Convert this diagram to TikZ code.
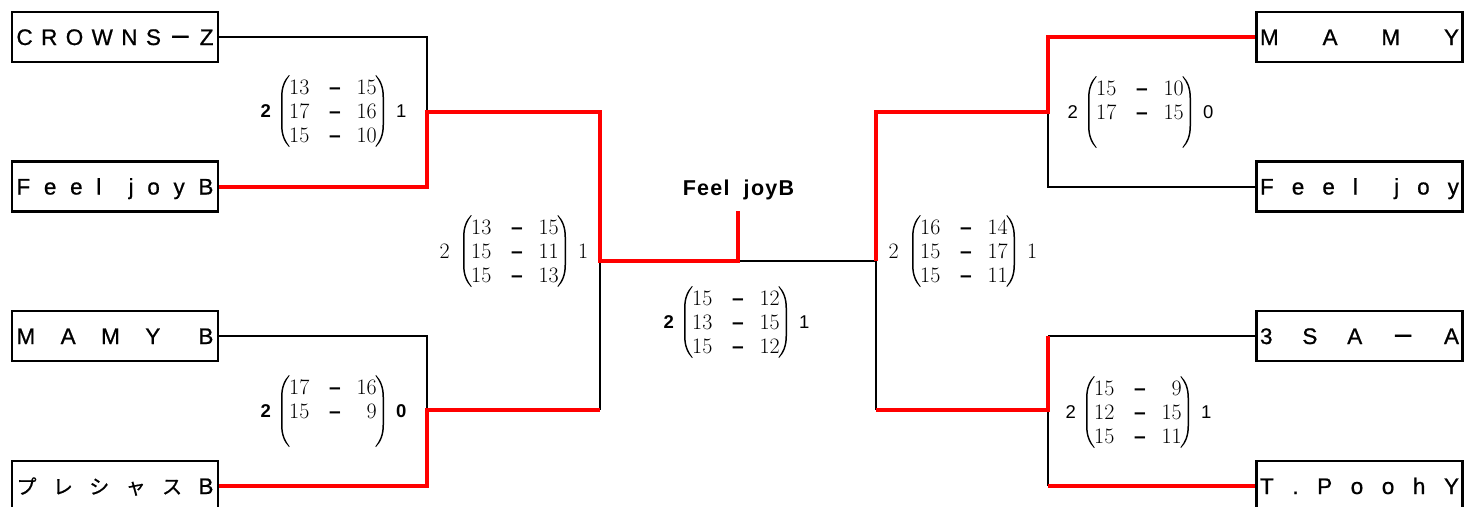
\documentclass[tikz,border=0pt]{standalone}
\usepackage{fontspec}
\setsansfont{Liberation Sans}
\newfontfamily\teamfont[FakeBold=0.8]{Liberation Sans}
\newfontfamily\cjk[FakeBold=0.8]{Noto Sans CJK JP}
\newfontfamily\cjkbar[FakeBold=2.5]{Noto Sans CJK JP}
\definecolor{wred}{RGB}{255,0,0}
\newcommand\ls{\kern1.3pt}
\newcommand\jp[1]{{\cjk\fontsize{20}{22}\selectfont #1}}
\newcommand\fwbar{{\cjkbar\fontsize{22}{24}\selectfont －}}
\newcommand\parenshape[3]{%
  \fill ({#1+(#3)*8},{#2-36}) .. controls ({#1+(#3)*3},{#2-31}) and ({#1},{#2-24}) .. ({#1},{#2-14})
    -- ({#1},{#2+14}) .. controls ({#1},{#2+24}) and ({#1+(#3)*3},{#2+31}) .. ({#1+(#3)*8},{#2+36})
    -- ({#1+(#3)*8.6},{#2+35.4}) .. controls ({#1+(#3)*4.4},{#2+30}) and ({#1+(#3)*1.5},{#2+24}) .. ({#1+(#3)*1.5},{#2+14})
    -- ({#1+(#3)*1.5},{#2-14}) .. controls ({#1+(#3)*1.5},{#2-24}) and ({#1+(#3)*4.4},{#2-30}) .. ({#1+(#3)*8.6},{#2-35.4}) -- cycle;}
\newcommand\scoreblk[6]{%
  \parenshape{#2}{#3}{1}
  \parenshape{#2+103}{#3}{-1}
  \node[lab, anchor=east] (#1-a) at ({#2-10},#3) {#4};
  \node[lab, anchor=west] (#1-b) at ({#2+115},#3) {#5};
  \foreach \u/\v [count=\i] in {#6} {
    \node[num, anchor=base west] (#1-u\i) at ({#2+8},{#3+24*(\i-2)+7}) {\u};
    \node[dashtxt, anchor=base] (#1-d\i) at ({#2+54},{#3+24*(\i-2)+7}) {–};
    \node[num, anchor=base east] (#1-v\i) at ({#2+96},{#3+24*(\i-2)+7}) {\v};
  }}
\tikzset{
  team/.style={draw, line width=2.2pt, minimum width=206pt, minimum height=50pt, inner sep=0pt,
    font=\teamfont\fontsize{22.5}{25}\selectfont, text height=16pt, text depth=0pt},
  lose/.style={line width=2pt, black},
  win/.style={line width=4pt, wred},
  num/.style={inner sep=0pt, font=\fontsize{22}{25}\selectfont},
  dashtxt/.style={inner sep=0pt, font=\sffamily\bfseries\fontsize{21}{25}\selectfont},
  lab/.style={inner sep=0pt, font=\sffamily\fontsize{18.5}{20}\selectfont},
  champ/.style={inner sep=0pt, font=\sffamily\bfseries\fontsize{21.5}{25}\selectfont, text height=15.5pt, text depth=0pt},
}
\newcommand\serif[1]{{\rmfamily\fontsize{22}{25}\selectfont #1}}
\begin{document}
\begin{tikzpicture}[x=1pt,y=-1pt]
\useasboundingbox (0,0) rectangle (1464,506);
\clip (0,0) rectangle (1464,506);
\fill[white] (0,0) rectangle (1464,506);
% teams left
\node[team] (crz) at (115,37) {\makebox[197pt][s]{C\hfill R\hfill O\hfill W\hfill N\hfill S\hfill\fwbar\hfill Z}};
\node[team] (fjb) at (115,186.5) {\makebox[197pt][s]{F\hfill e\hfill e\hfill l\hfill\hfill j\hfill o\hfill y\hfill B}};
\node[team] (mmb) at (115,336) {\makebox[197pt][s]{M\hfill A\hfill M\hfill Y\hskip 0pt plus 1.5fill B}};
\node[team] (prs) at (115,486) {\makebox[197pt][s]{\jp{プ}\hfill\jp{レ}\hfill\jp{シ}\hfill\jp{ャ}\hfill\jp{ス}\hfill B}};
% teams right
\node[team] (mmy) at (1359.5,37) {\makebox[199pt][s]{M\hfill A\hfill M\hfill Y}};
\node[team] (fj) at (1359.5,186.5) {\makebox[199pt][s]{F\hfill e\hfill e\hfill l\hfill\hfill j\hfill o\hfill y}};
\node[team] (tsa) at (1359.5,336) {\makebox[199pt][s]{3\hfill S\hfill A\hfill\fwbar\hfill A}};
\node[team] (tpy) at (1359.5,486) {\makebox[199pt][s]{T\hfill .\hfill P\hfill o\hfill o\hfill h\hfill Y}};
% junctions
\coordinate (j1) at (427,112);
\coordinate (j2) at (427,410);
\coordinate (s1) at (600,261);
\coordinate (s1b) at (600,410);
\coordinate (fc) at (738,261);
\coordinate (ft) at (738,211);
\coordinate (s2) at (876,261);
\coordinate (s2b) at (876,410);
\coordinate (j3) at (1048,112);
\coordinate (j4) at (1048,410);
\coordinate (j4t) at (1048,336);
\coordinate (j4b) at (1048,486);
% losing lines
\draw[lose] (crz.east) -| (j1);
\draw[lose] (mmb.east) -| (j2);
\draw[lose] (s1b) -- (s1);
\draw[lose] (fc) -- (s2);
\draw[lose] (s2) -- (s2b);
\draw[lose] (j3) |- (fj.west);
\draw[lose] (j4t) -- (tsa.west);
\draw[lose] (j4) -- (j4b);
% winning lines
\draw[win] (fjb.east) -| (j1) -| (s1) -- (fc) -- (ft);
\draw[win] (prs.east) -| (j2) -- (s1b);
\draw[win] (s2) |- (j3) |- (mmy.west);
\draw[win] (s2b) -- (j4) -- (j4t);
\draw[win] (j4b) -- (tpy.west);
% champion
\node[champ] (chp) at (738.5,187.5) {F\ls e\ls e\ls l\hspace{14pt}j\ls o\ls y\ls B};
% scores
\scoreblk{sa}{281}{111}{\bfseries 2}{1}{13/15,17/16,15/10}
\scoreblk{sb}{281}{411}{\bfseries 2}{\bfseries 0}{17/16,15/9}
\scoreblk{sc}{463}{251}{\serif{2\kern3pt}}{\serif{1}}{13/15,15/11,15/13}
\scoreblk{sd}{684}{322}{\bfseries 2}{1}{15/12,13/15,15/12}
\scoreblk{se}{912}{251}{\serif{2\kern3pt}}{\serif{1}}{16/14,15/17,15/11}
\scoreblk{sf}{1088}{112}{2}{0}{15/10,17/15}
\scoreblk{sg}{1086}{412}{2}{1}{15/9,12/15,15/11}
\end{tikzpicture}
\end{document}
